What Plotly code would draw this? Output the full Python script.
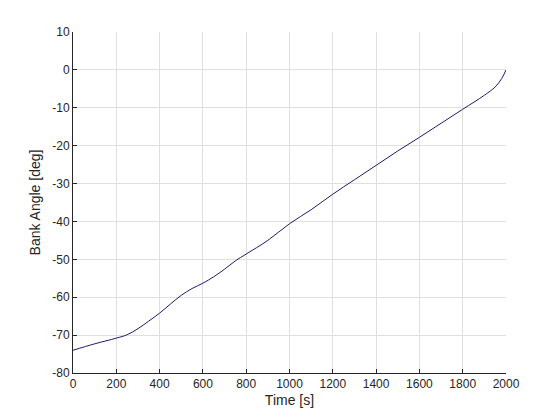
import plotly.graph_objects as go

time_s = [0, 100, 200, 250, 300, 350, 400, 450, 500, 550, 600, 650, 700, 750, 800, 900,
          1000, 1100, 1200, 1300, 1400, 1500, 1600, 1700, 1800, 1900, 1950, 1980, 2000]
bank_deg = [-74.0, -72.3, -70.8, -69.9, -68.3, -66.3, -64.2, -61.8, -59.5, -57.7, -56.3,
            -54.6, -52.6, -50.4, -48.6, -45.0, -40.6, -36.9, -32.8, -29.0, -25.2, -21.4,
            -17.8, -14.1, -10.4, -6.7, -4.5, -2.3, 0.0]

x_ticks = [0, 200, 400, 600, 800, 1000, 1200, 1400, 1600, 1800, 2000]
y_ticks = [10, 0, -10, -20, -30, -40, -50, -60, -70, -80]

FONT = "Liberation Sans, Arial"
TXT = "#262626"

fig = go.Figure()
fig.add_trace(go.Scatter(x=time_s, y=bank_deg, mode="lines",
                         line=dict(color="#1f1a72", width=1, shape="spline", smoothing=1.0),
                         showlegend=False))

axis_common = dict(showgrid=True, gridcolor="#dfdfdf", gridwidth=1,
                   showline=True, linecolor=TXT, linewidth=1,
                   ticks="inside", ticklen=4, tickcolor=TXT,
                   tickfont=dict(family=FONT, size=12, color=TXT),
                   zeroline=False, mirror=False)

fig.update_layout(
    width=552, height=412,
    margin=dict(l=65, r=54, t=24, b=47),
    paper_bgcolor="white", plot_bgcolor="white",
    xaxis=dict(range=[0, 2000], tickvals=x_ticks, ticktext=[str(v) for v in x_ticks],
               title=dict(text="Time [s]", standoff=4,
                           font=dict(family=FONT, size=14, color=TXT)),
               **axis_common),
    yaxis=dict(range=[-80, 10], tickvals=y_ticks, ticktext=[str(v) for v in y_ticks],
               title=dict(text="Bank Angle [deg]", standoff=8,
                           font=dict(family=FONT, size=14, color=TXT)),
               **axis_common),
)

fig.write_html("out.html")
